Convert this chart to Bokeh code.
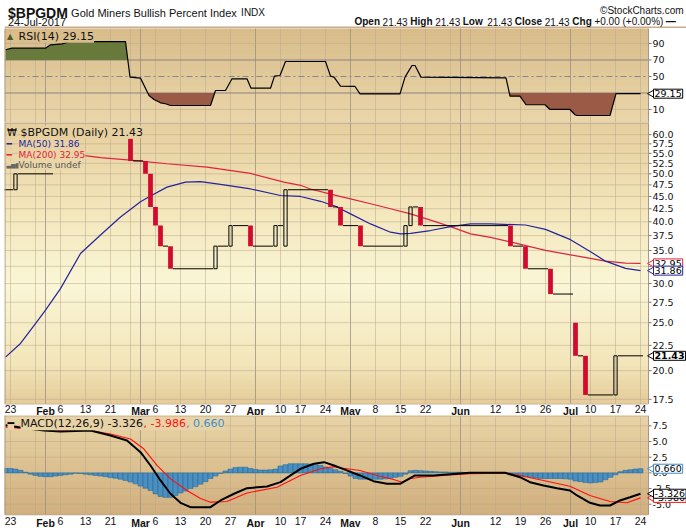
import numpy as np
from bokeh.plotting import figure
from bokeh.models import Range1d, FixedTicker, NumeralTickFormatter, Label
from bokeh.layouts import column
from bokeh.embed import file_html
from bokeh.resources import INLINE

# ---------------- data ----------------
# trading-day index: 0 = 23-Jan-2017 ... 126 = 24-Jul-2017
tick_idx = [0, 7, 10, 15, 20, 26, 29, 34, 39, 44, 49, 54, 58, 63, 68, 73, 78, 83, 90, 97, 102, 107, 112, 116, 121, 126]
tick_lbl = ["23", "Feb", "6", "13", "21", "Mar", "6", "13", "20", "27", "Apr", "10", "17", "24",
            "May", "8", "15", "22", "Jun", "12", "19", "26", "Jul", "10", "17", "24"]
month_lbls = ["Jan", "Feb", "Mar", "Apr", "May", "Jun", "Jul"]
week_grid = [0, 5, 10, 15, 20, 24, 29, 34, 39, 44, 54, 58, 63, 73, 78, 83, 88, 92, 97, 102, 107, 116, 121, 126]
month_grid = [7, 26, 49, 68, 90, 112]

day_idx = list(range(-1, 127))
close = [46.43, 46.43, 50.0, 50.0, 50.0, 50.0, 50.0, 50.0, 50.0, 50.0,
         None, None, None, None, None, None, None, None, None, None,
         None, None, None, None, None, 53.1, 53.1, 53.1, 50.0, 42.86,
         39.29, 35.71, 35.71, 32.14, 32.14, 32.14, 32.14, 32.14, 32.14, 32.14,
         32.14, 32.14, 35.71, 35.71, 35.71, 39.29, 39.29, 39.29, 39.29, 35.71,
         35.71, 35.71, 35.71, 35.71, 39.29, 39.29, 46.43, 46.43, 46.43, 46.43,
         46.43, 46.43, 46.43, 46.43, 46.43, 42.86, 42.86, 39.29, 39.29, 39.29,
         39.29, 35.71, 35.71, 35.71, 35.71, 35.71, 35.71, 35.71, 35.71, 35.71,
         39.29, 42.86, 42.86, 39.29, 39.29, 39.29, 39.29, 39.29, 39.29, 39.29,
         39.29, 39.29, 39.29, 39.29, 39.29, 39.29, 39.29, 39.29, 39.29, 39.29,
         39.29, 35.71, 35.71, 35.71, 32.14, 32.14, 32.14, 32.14, 32.14, 28.57,
         28.57, 28.57, 28.57, 28.57, 21.43, 21.43, 17.86, 17.86, 17.86, 17.86,
         17.86, 17.86, 21.43, 21.43, 21.43, 21.43, 21.43, 21.43]
cndl_days = [1, 24, 27, 28, 29, 30, 32, 41, 44, 48, 53, 55, 64, 66, 70, 79, 80, 82, 100, 103, 108, 113, 115, 121]
cndl_open = [46.43, 58.9, 53.1, 50.0, 42.86, 39.29, 35.71, 32.14, 35.71, 39.29, 35.71, 35.71,
             46.43, 42.86, 39.29, 35.71, 39.29, 42.86, 39.29, 35.71, 32.14, 25.0, 21.43, 17.86]

ma50_x = [-1, 2, 5, 7, 10, 14, 18, 22, 26, 28, 31.3, 35, 38, 42, 48, 54, 58, 62, 65, 68,
          72, 76, 78, 80, 84, 88, 92, 96, 103, 107, 112, 116, 119, 123, 126]
ma50_v = [21.3, 22.7, 24.9, 26.5, 29.3, 34.5, 37.6, 40.9, 43.9, 45.1, 47.0, 48.1, 48.2, 47.6, 46.6, 45.2, 45.0, 44.0, 43.0, 41.5,
          39.6, 38.1, 37.8, 37.9, 38.4, 39.1, 39.6, 39.6, 39.4, 38.6, 36.8, 34.8, 33.3, 32.2, 31.86]
ma200_x = [14.5, 18, 24, 31.3, 39.3, 48, 54.7, 58, 60, 64, 68, 72, 76, 80, 84, 88, 92, 96, 101, 107, 114, 119, 123, 126]
ma200_v = [54.5, 53.9, 53.3, 52.4, 51.6, 50.1, 48.1, 47.4, 46.6, 45.5, 44.5, 43.5, 42.5, 41.5, 40.3, 39.1, 37.8, 37.2,
           36.2, 35.0, 34.0, 33.3, 33.0, 32.95]

rsi_x = [-1.0, 0.3, 7.0, 8.0, 10.3, 12.0, 23.0, 23.9, 26.0, 27.7, 28.7, 30.0, 31.0, 32.0, 40.0, 41.0, 43.0, 44.3,
         47.3, 48.1, 52.0, 52.8, 53.9, 55.0, 63.0, 64.0, 64.7, 66.0, 68.9, 69.9, 77.9, 78.9, 80.3, 80.9, 82.1,
         99.1, 99.9, 101.9, 103.1, 106.9, 107.9, 111.9, 112.9, 113.3, 119.9, 121.1, 126.0]
rsi_v = [82.4, 84.3, 84.3, 88.4, 89.6, 92.4, 92.4, 49.2, 48.0, 27.0, 22.1, 18.1, 16.9, 14.8, 14.8, 33.0, 33.0, 47.2,
         47.2, 35.8, 35.8, 50.4, 51.2, 68.2, 68.2, 50.4, 49.2, 38.3, 37.9, 29.0, 29.0, 49.2, 63.3, 63.3, 49.2,
         48.4, 26.1, 26.1, 15.7, 15.7, 10.0, 10.0, 3.6, 2.7, 2.7, 29.15, 29.15]

macd_x = [-1, 3, 6.7, 10, 16, 20, 23.3, 26, 28, 30, 32, 34, 36, 40, 42, 44.7, 47.3, 51.3, 54, 56,
          58, 60.7, 62.7, 64.7, 66.6, 69.9, 72.6, 75.3, 77.9, 80.9, 84.6, 91.9, 98.9, 101.9, 103.9, 106.6,
          109.3, 111.9, 113.3, 115.9, 117.9, 119.9, 121.9, 123.9, 126]
macd_v = [7.6, 7.1, 6.76, 6.6, 6.76, 5.97, 5.17, 3.3, 1.18, -1.21, -3.33, -4.77, -5.47, -5.47, -4.4, -3.33, -2.44,
          -2.17, -1.48, -0.41, 0.65, 1.45, 1.71, 1.18, 0.6, -0.41, -1.32, -1.74, -1.74, -0.41, -0.41, 0.02, 0.02,
          -0.69, -1.48, -2.0, -2.44, -2.8, -3.6, -4.77, -5.2, -5.2, -4.4, -3.88, -3.326]
sig_x = [-1, 4, 10, 16, 20, 24, 26.7, 29.3, 32, 35.3, 38, 40, 43.3, 47.3, 53.3, 58, 62, 64.7, 66.6, 69.9,
         73.3, 76.6, 78.3, 79.9, 81.9, 86.6, 91.9, 98.9, 101.9, 106.6, 111.9, 115.9, 119.9, 123.3, 126]
sig_v = [7.3, 7.0, 6.76, 6.76, 6.2, 5.4, 3.8, 1.2, -0.95, -2.8, -4.1, -4.67, -4.56, -3.2, -2.3, -0.41, 0.65, 1.0,
         0.75, 0.38, -0.41, -1.05, -1.48, -0.94, -0.69, -0.41, -0.14, -0.05, -0.41, -1.21, -2.12, -3.6, -4.56,
         -4.77, -3.986]
hist_v = [0.7, 0.7, 0.6, 0.4, 0.1, -0.2, -0.4, -0.55, -0.6, -0.6,
          -0.5, -0.4, -0.3, -0.2, -0.05, -0.1, -0.2, -0.3, -0.4, -0.5,
          -0.6, -0.75, -0.85, -1.0, -1.2, -1.45, -1.75, -2.1, -2.45, -2.8,
          -3.35, -3.75, -3.9, -3.9, -3.6, -3.2, -2.9, -2.5, -2.2, -1.8,
          -1.4, -0.9, -0.5, -0.1, 0.3, 0.6, 0.85, 0.9, 0.9, 0.7,
          0.55, 0.45, 0.45, 0.5, 0.6, 1.1, 1.3, 1.45, 1.45, 1.45,
          1.45, 1.4, 1.3, 1.2, 0.95, 0.7, 0.5, 0.25, -0.1, -0.5,
          -0.9, -1.0, -1.0, -1.0, -1.0, -1.0, -0.95, -0.85, -0.7, -0.55,
          -0.2, 0.35, 0.4, 0.35, 0.3, 0.25, 0.2, 0.15, 0.15, 0.1,
          0.1, 0.1, 0.05, 0.05, 0.05, 0.05, 0.05, 0.0, 0.0, 0.0,
          -0.05, -0.3, -0.4, -0.5, -0.6, -0.7, -0.8, -0.9, -0.9, -0.9,
          -0.9, -0.9, -0.95, -1.0, -1.3, -1.4, -1.55, -1.6, -1.55, -1.45,
          -1.1, -0.7, -0.3, 0.2, 0.4, 0.5, 0.6, 0.66]

price_ticks = [17.5, 20.0, 22.5, 25.0, 27.5, 30.0, 32.5, 35.0, 37.5, 40.0, 42.5, 45.0, 47.5, 50.0, 52.5, 55.0, 57.5, 60.0]
rsi_ticks = [10, 30, 50, 70, 90]
macd_ticks = [-5.0, -2.5, 0.0, 2.5, 5.0, 7.5]

last_close, last_ma50, last_ma200, last_rsi = 21.43, 31.86, 32.95, 29.15
last_macd, last_sig, last_hist = -3.326, -3.986, 0.660

# ---------------- layout / style ----------------
W = 686
LB = 4
FWE = 682                 # frame width: plot area (644 px) + right label column
PX = 5.0                  # px per trading day
X0 = -1.2
X1 = X0 + 644 / PX        # right border of plot area
XE = X0 + FWE / PX
HDR_H, RSI_H, PR_H, MC_H = 28, 94, 293, 112
OUTLINE = "#a8968a"
GRIDC, MONTHC = "#b9a88c", "#9a8c80"
xr = Range1d(X0, XE)

RSI_LO, RSI_HI = -5.8, 108.2
PR_LO, PR_PLOT_LO, PR_HI = 16.23, 17.15, 63.5
MC_LO, MC_PLOT_LO, MC_PLOT_HI, MC_HI = -8.71, -6.63, 9.0, 9.15


def grad_colors(stops, n):
    cols = []
    for k in range(n):
        f = (k + 0.5) / n
        c = stops[-1][1]
        for (f0, c0), (f1, c1) in zip(stops[:-1], stops[1:]):
            if f0 <= f <= f1:
                t = (f - f0) / (f1 - f0)
                c = [int(round(a + (b - a) * t)) for a, b in zip(c0, c1)]
                break
        cols.append("#%02x%02x%02x" % tuple(c))
    return cols


def background(p, ylo, yhi, stops, log=False, n=60):
    edges = np.geomspace(yhi, ylo, n + 1) if log else np.linspace(yhi, ylo, n + 1)
    cols = grad_colors(stops, n)
    p.quad(left=X0, right=X1, top=edges[:-1], bottom=edges[1:], fill_color=cols,
           line_color=cols, line_width=1)


def panel(h, yr, log=False, xaxis=False):
    p = figure(frame_width=FWE, frame_height=h, x_range=xr, y_range=yr,
               y_axis_type="log" if log else "linear",
               x_axis_location="below" if xaxis else None, y_axis_location="right",
               toolbar_location=None, output_backend="svg",
               min_border_left=LB, min_border_right=0, min_border_top=0, min_border_bottom=0)
    p.grid.visible = False
    p.outline_line_color = None
    p.background_fill_color = "white"
    p.border_fill_color = "white"
    return p


def grids(p, lo, hi, hticks):
    p.segment(x0=week_grid, x1=week_grid, y0=lo, y1=hi, line_color=GRIDC, line_alpha=0.5, line_width=1)
    p.segment(x0=month_grid, x1=month_grid, y0=lo, y1=hi, line_color=MONTHC, line_alpha=0.75, line_width=1)
    p.segment(x0=X0, x1=X1, y0=hticks, y1=hticks, line_color=GRIDC, line_alpha=0.5, line_width=1)


def borders(p, lo, hi, top=None, bottom=None, bottom_dash="solid", top_dash="solid"):
    p.segment(x0=[X0 + 0.1, X1], x1=[X0 + 0.1, X1], y0=lo, y1=hi, line_color=OUTLINE, line_width=1)
    if top is not None:
        p.segment(x0=X0, x1=X1, y0=top, y1=top, line_color=OUTLINE, line_width=1, line_dash=top_dash)
    if bottom is not None:
        p.segment(x0=X0, x1=X1, y0=bottom, y1=bottom, line_color=OUTLINE, line_width=1, line_dash=bottom_dash)


def style_y(p, ticks, fmt):
    ya = p.yaxis[0]
    ya.ticker = FixedTicker(ticks=ticks)
    ya.formatter = NumeralTickFormatter(format=fmt)
    ya.major_label_text_font = "DejaVu Sans"
    ya.major_label_text_font_size = "9.5px"
    ya.major_label_text_color = "#111111"
    ya.major_tick_out = 0
    ya.major_tick_in = 0
    ya.minor_tick_out = 0
    ya.minor_tick_in = 0
    ya.major_label_standoff = -34
    ya.axis_line_color = None
    ya.major_tick_line_color = None
    ya.minor_tick_line_color = None
    # small tick marks on the plot's right border
    p.segment(x0=X1, x1=X1 + 0.6, y0=ticks, y1=ticks, line_color="#777777", line_width=1)


def style_x(p, standoff, label_y):
    xa = p.xaxis[0]
    xa.ticker = FixedTicker(ticks=tick_idx)
    xa.major_label_overrides = {t: ("" if l in month_lbls else l) for t, l in zip(tick_idx, tick_lbl)}
    xa.major_label_text_font = "Liberation Sans"
    xa.major_label_text_font_size = "10.5px"
    xa.major_label_text_color = "#111111"
    xa.major_tick_out = 0
    xa.major_tick_in = 0
    xa.minor_tick_out = 0
    xa.minor_tick_in = 0
    xa.major_label_standoff = standoff
    xa.axis_line_color = None
    xa.major_tick_line_color = None
    xa.minor_tick_line_color = None
    for t, l in zip(tick_idx, tick_lbl):
        if l in month_lbls:
            p.add_layout(Label(x=t, y=label_y, x_units="data", y_units="screen", text=l,
                               text_font="Liberation Sans", text_font_style="bold", text_font_size="10.5px",
                               text_align="center", text_baseline="top", text_color="#111111"))


def leg(p, x, y, text, size=11, color="#111111", bg=None):
    p.add_layout(Label(x=x, y=y, x_units="screen", y_units="screen", text=text, text_font="DejaVu Sans",
                       text_font_size=f"{size}px", text_color=color, text_baseline="middle",
                       text_align="left", background_fill_color=bg))


def vbox(p, yv, text, border, bold=False):
    p.scatter(x=[X1 + 0.85], y=[yv], marker="triangle", angle=np.pi / 2, size=9,
              fill_color="white", line_color=border, line_width=1)
    p.add_layout(Label(x=649, y=yv, x_units="screen", y_units="data", text=text, text_font="DejaVu Sans",
                       text_font_size="9.5px", text_font_style="bold" if bold else "normal",
                       text_baseline="middle", text_align="left", text_color="black",
                       border_line_color=border, border_line_width=1, background_fill_color="white",
                       padding=1))


# ---------------- header ----------------
hdr = figure(width=W, height=HDR_H, x_range=Range1d(0, W), y_range=Range1d(0, HDR_H), toolbar_location=None,
             output_backend="svg", x_axis_location=None, y_axis_location=None, min_border=0)
hdr.grid.visible = False
hdr.outline_line_color = None
hdr.quad(left=0, right=W, bottom=0, top=2, fill_color="#c9ab8e", line_color=None)


def htxt(x, y, text, size, bold=False, align="left", color="#111111"):
    hdr.add_layout(Label(x=x, y=y, text=text, text_font="Liberation Sans", text_font_size=f"{size}px",
                         text_font_style="bold" if bold else "normal", text_align=align,
                         text_baseline="alphabetic", text_color=color))


htxt(3.5, 15.5, "$BPGDM", 14, bold=True)
htxt(67, 16, "Gold Miners Bullish Percent Index", 11)
htxt(238, 16, "INDX", 10)
htxt(3.5, 7, "24-Jul-2017", 11)
htxt(683, 18.5, "\u00a9StockCharts.com", 10, align="right")
hx = [352, 380.3, 408.2, 433.2, 460.9, 485.5, 513.3, 543.3, 571.2, 593.4, 665.2]
ht = ["Open", "21.43", "High", "21.43", "Low", "21.43", "Close", "21.43", "Chg", "+0.00 (+0.00%)", "\u2014"]
hb = [True, False, True, False, True, False, True, False, True, False, True]
for x, t, b in zip(hx, ht, hb):
    htxt(x, 7, t, 10, bold=b)

# ---------------- RSI panel ----------------
rsi = panel(RSI_H, Range1d(RSI_LO, RSI_HI))
background(rsi, RSI_LO, RSI_HI, [(0, (216, 188, 138)), (1, (234, 214, 170))])
grids(rsi, RSI_LO, RSI_HI, [10, 90])
style_y(rsi, rsi_ticks, "0")
rsi.segment(x0=X0, x1=X1, y0=[70, 30], y1=[70, 30], line_color="#8a8580", line_width=1)
rsi.segment(x0=X0, x1=X1, y0=50, y1=50, line_color="#7d8898", line_width=1, line_dash="6 3 2 3")


def with_crossings(xs, vs, level):
    ox, ov = [xs[0]], [vs[0]]
    for k in range(1, len(xs)):
        a, b = vs[k - 1], vs[k]
        if (a - level) * (b - level) < 0:
            t = (level - a) / (b - a)
            ox.append(xs[k - 1] + t * (xs[k] - xs[k - 1]))
            ov.append(level)
        ox.append(xs[k])
        ov.append(vs[k])
    return np.array(ox), np.array(ov)


gx, gv = with_crossings(rsi_x, rsi_v, 70)
rsi.varea(x=gx, y1=70, y2=np.maximum(gv, 70), fill_color="#677a3c")
bx, bv = with_crossings(rsi_x, rsi_v, 30)
rsi.varea(x=bx, y1=np.minimum(bv, 30), y2=30, fill_color="#9b5a45")
rsi.line(rsi_x, rsi_v, line_color="black", line_width=1.2)
borders(rsi, RSI_LO, RSI_HI)
leg(rsi, 2.5, 86.3, "\u25b2", size=8, color="#4d5d28")
leg(rsi, 14, 86.3, "RSI(14) 29.15", size=11, bg="#d9bd8b")
vbox(rsi, last_rsi, "29.15", "black")

# ---------------- price panel ----------------
pr = panel(PR_H, Range1d(PR_LO, PR_HI), log=True, xaxis=True)
background(pr, PR_PLOT_LO, PR_HI, [(0, (230, 206, 157)), (0.3, (243, 229, 186)), (0.58, (250, 246, 214)),
                                    (0.85, (243, 230, 187)), (1, (229, 204, 153))], log=True)
grids(pr, PR_PLOT_LO, PR_HI, price_ticks)
style_y(pr, price_ticks, "0.0")
style_x(pr, -11, 11)

pr.line(ma200_x, ma200_v, line_color="#e0233f", line_width=1.2)
pr.line(ma50_x, ma50_v, line_color="#24249c", line_width=1.2)

open_map = dict(zip(cndl_days, cndl_open))
flat_d, flat_c = [], []
up_d, up_o, up_c = [], [], []
dn_d, dn_o, dn_c = [], [], []
for d, c in zip(day_idx, close):
    if c is None:
        continue
    if d in open_map:
        o = open_map[d]
        if c > o:
            up_d.append(d); up_o.append(o); up_c.append(c)
        else:
            dn_d.append(d); dn_o.append(o); dn_c.append(c)
    else:
        flat_d.append(d); flat_c.append(c)
flat_d = np.array(flat_d, dtype=float)
pr.segment(x0=flat_d - 0.5, x1=flat_d + 0.5, y0=flat_c, y1=flat_c, line_color="black", line_width=1)
pr.vbar(x=dn_d, width=0.95, top=dn_o, bottom=dn_c, fill_color="#d20a30", line_color=None)
pr.vbar(x=up_d, width=0.65, top=up_c, bottom=up_o, fill_color=None, line_color="black", line_width=1)
borders(pr, PR_PLOT_LO, PR_HI, top=PR_HI * np.exp(-0.5 / 214.8),
        bottom=PR_PLOT_LO * np.exp(-0.5 / 214.8), bottom_dash="1 1")

leg(pr, 2.5, 283.5, "\u20a9", size=10, bg="#e7d0a0")
leg(pr, 16, 283.5, "$BPGDM (Daily) 21.43", size=11, bg="#e7d0a0")
leg(pr, 2, 271.7, "\u2501", size=9, color="#24249c", bg="#e8d2a3")
leg(pr, 14, 271.7, "MA(50) 31.86", size=9, color="#24249c", bg="#e8d2a3")
leg(pr, 2, 261, "\u2501", size=9, color="#e0233f", bg="#e9d4a6")
leg(pr, 14, 261, "MA(200) 32.95", size=9, color="#e0233f", bg="#e9d4a6")
leg(pr, 2, 250.7, "\u2583\u2585\u2586", size=6, color="#666666", bg="#ead6a9")
leg(pr, 14, 250.7, "Volume undef", size=9, color="#555555", bg="#ead6a9")

vbox(pr, last_ma200, "32.95", "#e0233f")
vbox(pr, last_ma50, "31.86", "#24249c")
vbox(pr, last_close, "21.43", "black", bold=True)

# ---------------- MACD panel ----------------
mc = panel(MC_H, Range1d(MC_LO, MC_HI), xaxis=True)
background(mc, MC_PLOT_LO, MC_HI, [(0, (232, 212, 166)), (1, (209, 175, 126))])
grids(mc, MC_PLOT_LO, MC_PLOT_HI, macd_ticks)
style_y(mc, macd_ticks, "0.0")
style_x(mc, -11, 11)
mc.vbar(x=day_idx, width=1.0, top=hist_v, bottom=0, fill_color="#4a8fc0", line_color="#2c6b98", line_width=0.6)
mc.line(sig_x, sig_v, line_color="#ff1010", line_width=1.1)
mc.line(macd_x, macd_v, line_color="black", line_width=2)
borders(mc, MC_PLOT_LO, MC_HI, top=MC_PLOT_HI + 0.05, bottom=MC_PLOT_LO - 0.08, top_dash="1 1", bottom_dash="1 1")
leg(mc, 3, 103.7, "\u2501", size=11, color="black", bg="#e8d3a7")
leg(mc, 16, 103.7, "MACD(12,26,9) -3.326", size=11, bg="#e8d3a7")
leg(mc, 139, 103.7, ", -3.986", size=11, color="#ff1010", bg="#e8d3a7")
leg(mc, 181.5, 103.7, ", 0.660", size=11, color="#3a8fcc", bg="#e8d3a7")
vbox(mc, last_sig, "-3.986", "#ff1010")
vbox(mc, last_macd, "-3.326", "black")
vbox(mc, last_hist, "0.660", "#3a8fcc")

layout = column(hdr, rsi, pr, mc, spacing=0)
open("out.html", "w").write(file_html(layout, INLINE, title="$BPGDM"))
